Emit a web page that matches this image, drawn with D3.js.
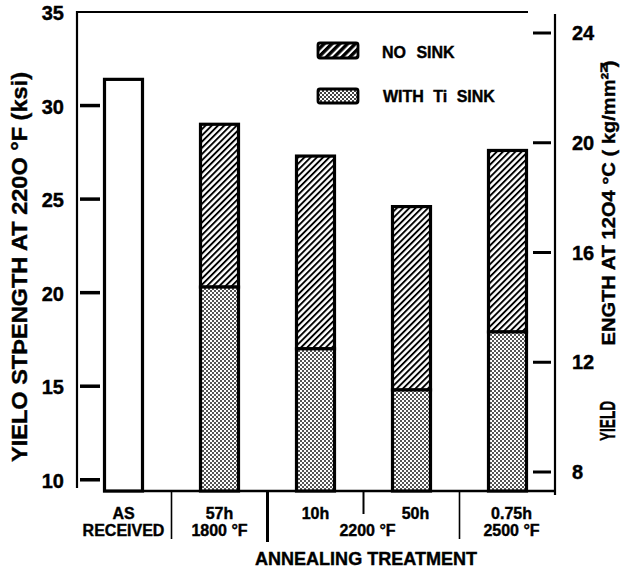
<!DOCTYPE html>
<html>
<head>
<meta charset="utf-8">
<script src="https://cdn.jsdelivr.net/npm/d3@7"></script>
<style>
  html, body { margin: 0; padding: 0; background: #fff; }
  svg { display: block; }
  text { font-family: "Liberation Sans", Arial, Helvetica, sans-serif; font-weight: bold; fill: #000; stroke: #000; stroke-width: 0.4px; }
</style>
</head>
<body>
<svg id="chart" width="622" height="572"></svg>
<script>
// Annealing treatments (bar order, left to right)
const categories = ["AS RECEIVED", "57h 1800 °F", "10h 2200 °F", "50h 2200 °F", "0.75h 2500 °F"];
// Yield strength at 2200 °F (ksi), specimens annealed without a sink
const noSinkValues = [31.4, 29.0, 27.3, 24.6, 27.6];
// Yield strength at 2200 °F (ksi), specimens annealed with a Ti sink (none for as-received)
const tiSinkValues = [null, 20.3, 17.0, 14.8, 17.9];

// Axis ticks
const leftTicks = [10, 15, 20, 25, 30, 35];
const rightTicks = [8, 12, 16, 20, 24];

// Category labels below the axis
const durationLabels = ["AS", "57h", "10h", "50h", "0.75h"];
const temperatureLabels = [
  { text: "RECEIVED", from: 0, to: 0 },
  { text: "1800 °F", from: 1, to: 1 },
  { text: "2200 °F", from: 2, to: 3 },
  { text: "2500 °F", from: 4, to: 4 }
];

const svg = d3.select("#chart");

// Scales
const baseY = 491;
const y = d3.scaleLinear().domain([9.4, 35]).range([baseY, 12]);
const yRight = d3.scaleLinear().domain([8, 24]).range([472, 33]);
const x = d3.scalePoint().domain(categories).range([123.5, 507.5]);
const barW = 38;

// Fill patterns
const defs = svg.append("defs");
function hatch(id, size, lineW) {
  const p = defs.append("pattern").attr("id", id)
    .attr("patternUnits", "userSpaceOnUse")
    .attr("width", size).attr("height", size)
    .attr("patternTransform", "rotate(45)");
  p.append("rect").attr("width", size).attr("height", size).attr("fill", "#fff");
  p.append("rect").attr("width", lineW).attr("height", size).attr("fill", "#000");
}
hatch("hatch", 4.4, 1.9);
hatch("hatchLegend", 5.5, 3.4);

function stipple(id, ink) {
  const p = defs.append("pattern").attr("id", id)
    .attr("patternUnits", "userSpaceOnUse")
    .attr("width", 4).attr("height", 4);
  p.append("rect").attr("width", 4).attr("height", 4).attr("fill", "#fff");
  p.append("rect").attr("x", 0).attr("y", 0).attr("width", 2).attr("height", 2).attr("fill", ink);
  p.append("rect").attr("x", 2).attr("y", 2).attr("width", 2).attr("height", 2).attr("fill", ink);
}
stipple("stipple", "#555");
stipple("stippleLegend", "#444");

// Frame lines
const frame = svg.append("g").attr("stroke", "#000").attr("fill", "none");
frame.append("line").attr("x1", 77).attr("x2", 528).attr("y1", 12).attr("y2", 12).attr("stroke-width", 2.2);
frame.append("line").attr("x1", 77).attr("x2", 77).attr("y1", 11).attr("y2", 488).attr("stroke-width", 2.2);
frame.append("line").attr("x1", 555).attr("x2", 555).attr("y1", 14).attr("y2", 495).attr("stroke-width", 2.2);
frame.append("line").attr("x1", x(categories[0]) - barW / 2 - 1.5).attr("x2", 555).attr("y1", baseY).attr("y2", baseY).attr("stroke-width", 2.6);

// Left axis: inward ticks and labels
const leftAxis = svg.append("g");
leftAxis.selectAll("line").data(leftTicks.filter(d => d < 35)).join("line")
  .attr("x1", 80).attr("x2", 100)
  .attr("y1", d => y(d)).attr("y2", d => y(d))
  .attr("stroke", "#000").attr("stroke-width", 3.5);
leftAxis.selectAll("text").data(leftTicks).join("text")
  .attr("x", 64).attr("y", d => y(d) + 1)
  .attr("dy", "0.36em")
  .attr("text-anchor", "end")
  .attr("font-size", 20)
  .text(d => d);

// Right axis (kg/mm²): ticks left of the axis line, labels to the right
const rightAxis = svg.append("g");
rightAxis.selectAll("line").data(rightTicks).join("line")
  .attr("x1", 533).attr("x2", 551)
  .attr("y1", d => yRight(d)).attr("y2", d => yRight(d))
  .attr("stroke", "#000").attr("stroke-width", 3);
rightAxis.selectAll("text").data(rightTicks).join("text")
  .attr("x", 572).attr("y", d => yRight(d))
  .attr("dy", "0.36em")
  .attr("font-size", 20)
  .text(d => d);

// Bars
const bars = svg.append("g").attr("stroke", "#000").attr("stroke-width", 3.2);
categories.forEach((c, i) => {
  const x0 = x(c) - barW / 2;
  const total = noSinkValues[i];
  const sink = tiSinkValues[i];
  if (sink == null) {
    bars.append("rect").attr("x", x0).attr("y", y(total))
      .attr("width", barW).attr("height", baseY - y(total)).attr("fill", "#fff");
  } else {
    bars.append("rect").attr("x", x0).attr("y", y(total))
      .attr("width", barW).attr("height", y(sink) - y(total)).attr("fill", "url(#hatch)");
    bars.append("rect").attr("x", x0).attr("y", y(sink))
      .attr("width", barW).attr("height", baseY - y(sink)).attr("fill", "url(#stipple)");
  }
});

// Legend
const legend = svg.append("g");
legend.append("rect").attr("x", 318).attr("y", 43).attr("width", 40).attr("height", 15)
  .attr("rx", 2).attr("fill", "url(#hatchLegend)").attr("stroke", "#000").attr("stroke-width", 2.8);
legend.append("text").attr("x", 382).attr("y", 58).attr("font-size", 16)
  .attr("word-spacing", 6).text("NO SINK");
legend.append("rect").attr("x", 318).attr("y", 89).attr("width", 40).attr("height", 14)
  .attr("rx", 2).attr("fill", "url(#stippleLegend)").attr("stroke", "#000").attr("stroke-width", 2.8);
legend.append("text").attr("x", 383).attr("y", 102).attr("font-size", 16)
  .attr("word-spacing", 5).text("WITH Ti SINK");

// Group separators below the baseline
const mids = d3.pairs(categories.map(c => x(c))).map(([a, b]) => (a + b) / 2);
const sepLen = [48, 51, 23, 48];
const sepW = [1.6, 3, 2, 1.6];
svg.append("g").selectAll("line").data(mids).join("line")
  .attr("x1", d => d).attr("x2", d => d)
  .attr("y1", baseY).attr("y2", (d, i) => baseY + sepLen[i])
  .attr("stroke", "#000").attr("stroke-width", (d, i) => sepW[i]);

// Category labels
svg.append("g").selectAll("text").data(durationLabels).join("text")
  .attr("x", (d, i) => x(categories[i]) + (i >= 3 ? 4 : 0))
  .attr("y", 519)
  .attr("text-anchor", "middle")
  .attr("font-size", 16)
  .text(d => d);
svg.append("g").selectAll("text").data(temperatureLabels).join("text")
  .attr("x", d => (x(categories[d.from]) + x(categories[d.to])) / 2 + (d.from >= 2 ? 4 : 0))
  .attr("y", 536)
  .attr("text-anchor", "middle")
  .attr("font-size", 16)
  .text(d => d.text);

// Axis titles
svg.append("text").attr("x", 366).attr("y", 565)
  .attr("text-anchor", "middle").attr("font-size", 18)
  .attr("textLength", 222).attr("lengthAdjust", "spacingAndGlyphs")
  .text("ANNEALING TREATMENT");

svg.append("text")
  .attr("transform", "translate(27,267) rotate(-90)")
  .attr("text-anchor", "middle").attr("font-size", 22)
  .attr("textLength", 390).attr("lengthAdjust", "spacingAndGlyphs")
  .text("YIELO  STÞENGTH  AT  220O  °F (ksi)");

// Right title, narrow lettering drawn by scaling along the text direction
svg.append("text")
  .attr("transform", "translate(615,421) rotate(-90) scale(0.62,1)")
  .attr("text-anchor", "middle").attr("font-size", 22)
  .text("YIELD");
svg.append("text")
  .attr("transform", "translate(615,203) rotate(-90)")
  .attr("text-anchor", "middle").attr("font-size", 19)
  .attr("textLength", 285).attr("lengthAdjust", "spacingAndGlyphs")
  .text("ENGTH  AT  12O4 °C ( kg/mm² )");
svg.append("text")
  .attr("x", 604).attr("y", 72)
  .attr("text-anchor", "middle")
  .attr("font-family", "Liberation Serif, serif")
  .attr("font-size", 12)
  .text("N");
</script>
</body>
</html>
